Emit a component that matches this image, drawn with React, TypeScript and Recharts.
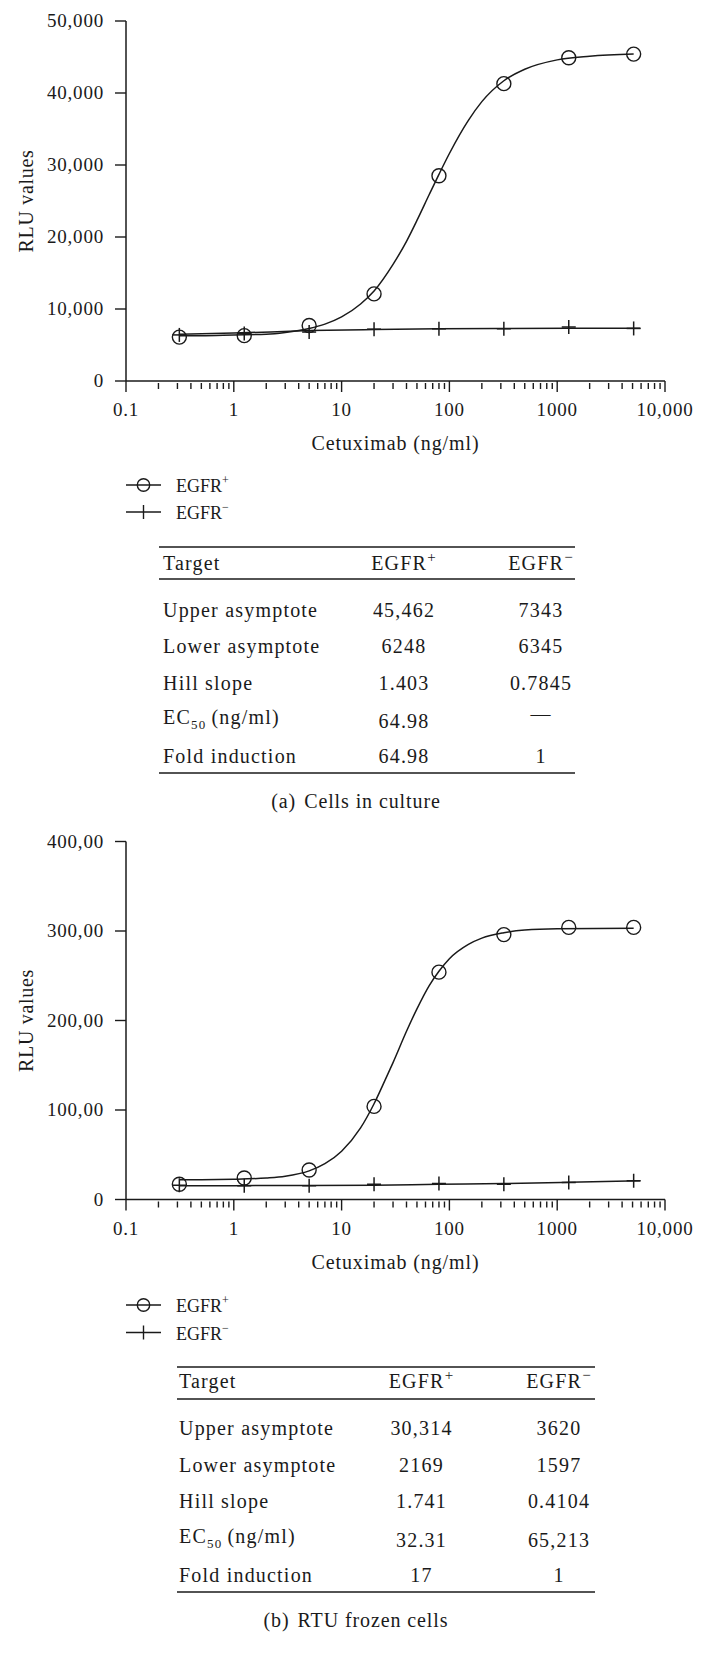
import React from 'react';
import { ComposedChart, Line, Scatter, XAxis, YAxis, Label } from 'recharts';

const FONT = '"Liberation Serif", "Times New Roman", serif';
const INK = '#1a1a1a';

// cetuximab concentrations (ng/ml), 4-fold dilutions
const doses = [0.3125, 1.25, 5, 20, 80, 320, 1280, 5120];

// (a) cells in culture: measured points
const culturePos = [6100, 6300, 7700, 12100, 28500, 41300, 44900, 45400];
const cultureNeg = [6400, 6600, 6800, 7200, 7250, 7250, 7500, 7300];

// (a) fitted curves
const cultureFitPosDoses = [0.3125, 0.5, 1, 2, 3, 5, 7, 10, 15, 20, 30, 40, 50, 65, 80, 100, 150, 200, 320, 500, 1000, 2000, 5120];
const cultureFitPos = [6300, 6300, 6400, 6500, 6750, 7300, 7900, 8900, 10700, 12500, 16200, 19400, 22300, 25900, 28700, 31600, 36200, 38800, 41700, 43300, 44600, 45100, 45400];
const cultureFitNegDoses = [0.3125, 1, 5, 20, 80, 320, 1280, 5900];
const cultureFitNeg = [6500, 6650, 7000, 7150, 7250, 7300, 7330, 7340];

// (b) RTU frozen cells: measured points
const frozenPos = [1700, 2400, 3300, 10400, 25400, 29600, 30400, 30400];
const frozenNeg = [1600, 1550, 1550, 1700, 1800, 1700, 1900, 2100];

// (b) fitted curves
const frozenFitPosDoses = [0.3125, 0.5, 1, 2, 3, 5, 7, 10, 15, 20, 25, 30, 40, 50, 65, 80, 100, 150, 200, 320, 500, 1000, 5120];
const frozenFitPos = [2200, 2200, 2250, 2400, 2600, 3200, 4000, 5400, 8000, 10700, 13200, 15300, 18800, 21300, 23900, 25500, 26900, 28500, 29200, 29800, 30100, 30250, 30300];
const frozenFitNegDoses = [0.3125, 1, 5, 20, 80, 320, 1280, 5900];
const frozenFitNeg = [1550, 1550, 1560, 1600, 1700, 1780, 1920, 2100];

// x axis ticks
const doseTicks = [
  0.1, 0.2, 0.3, 0.4, 0.5, 0.6, 0.7, 0.8, 0.9,
  1, 2, 3, 4, 5, 6, 7, 8, 9,
  10, 20, 30, 40, 50, 60, 70, 80, 90,
  100, 200, 300, 400, 500, 600, 700, 800, 900,
  1000, 2000, 3000, 4000, 5000, 6000, 7000, 8000, 9000,
  10000,
];
const doseMajor = [0.1, 1, 10, 100, 1000, 10000];
const doseMajorLabels = ['0.1', '1', '10', '100', '1000', '10,000'];

// y axis ticks
const cultureYTicks = [0, 10000, 20000, 30000, 40000, 50000];
const cultureYLabels = ['0', '10,000', '20,000', '30,000', '40,000', '50,000'];
const frozenYTicks = [0, 10000, 20000, 30000, 40000];
const frozenYLabels = ['0', '100,00', '200,00', '300,00', '400,00'];

// parameter tables
const paramRows = ['Upper asymptote', 'Lower asymptote', 'Hill slope', 'EC50 (ng/ml)', 'Fold induction'];
const culturePosParams = ['45,462', '6248', '1.403', '64.98', '64.98'];
const cultureNegParams = ['7343', '6345', '0.7845', '—', '1'];
const frozenPosParams = ['30,314', '2169', '1.741', '32.31', '17'];
const frozenNegParams = ['3620', '1597', '0.4104', '65,213', '1'];

const toPoints = (xs: number[], ys: number[]) => xs.map((x, i) => ({ x, y: ys[i] }));

function DoseTick({ x, y, payload }: any) {
  const i = doseMajor.indexOf(payload.value);
  const major = i >= 0;
  return (
    <g>
      <line x1={x} x2={x} y1={major ? y : y + 2} y2={y + (major ? 11 : 8)} stroke={INK} strokeWidth={1.4} />
      {major && (
        <text x={x} y={y + 35} textAnchor="middle" fontFamily={FONT} fontSize={19} letterSpacing={0.8} fill={INK}>
          {doseMajorLabels[i]}
        </text>
      )}
    </g>
  );
}

function makeValueTick(ticks: number[], labels: string[]) {
  return ({ x, y, payload }: any) => {
    const i = ticks.indexOf(payload.value);
    return (
      <g>
        <line x1={x - 11} x2={x} y1={y} y2={y} stroke={INK} strokeWidth={1.4} />
        <text x={x - 22} y={y} dy="0.34em" textAnchor="end" fontFamily={FONT} fontSize={19} letterSpacing={0.8} fill={INK}>
          {labels[i]}
        </text>
      </g>
    );
  };
}

const CircleMark = (p: any) => <circle cx={p.cx} cy={p.cy} r={7} fill="none" stroke={INK} strokeWidth={1.4} />;
const PlusMark = (p: any) => (
  <g stroke={INK} strokeWidth={1.5}>
    <line x1={p.cx - 7} x2={p.cx + 7} y1={p.cy} y2={p.cy} />
    <line x1={p.cx} x2={p.cx} y1={p.cy - 7} y2={p.cy + 7} />
  </g>
);

function DoseChart(props: any) {
  const { top, plotTop, plotHeight, yMax, yTicks, yLabels, pos, neg, fitPos, fitNeg } = props;
  const xAxisHeight = 89;
  const height = plotTop + plotHeight + xAxisHeight;
  return (
    <div style={{ position: 'absolute', left: 0, top }}>
      <ComposedChart width={706} height={height} margin={{ top: plotTop, right: 41, bottom: 0, left: 0 }}>
        <XAxis
          dataKey="x"
          type="number"
          scale="log"
          domain={[0.1, 10000]}
          allowDataOverflow
          ticks={doseTicks}
          interval={0}
          tick={<DoseTick />}
          tickLine={false}
          tickSize={0}
          tickMargin={0}
          height={xAxisHeight}
          axisLine={{ stroke: INK, strokeWidth: 1.5 }}
        >
          <Label
            value="Cetuximab (ng/ml)"
            position="insideBottom"
            offset={20}
            fill={INK}
            fontSize={20}
            fontFamily={FONT}
            style={{ letterSpacing: '0.9px' }}
          />
        </XAxis>
        <YAxis
          dataKey="y"
          type="number"
          domain={[0, yMax]}
          allowDataOverflow
          ticks={yTicks}
          interval={0}
          width={126}
          tick={makeValueTick(yTicks, yLabels)}
          tickLine={false}
          tickSize={0}
          tickMargin={0}
          axisLine={{ stroke: INK, strokeWidth: 1.5 }}
        >
          <Label
            value="RLU values"
            angle={-90}
            position="insideLeft"
            offset={26}
            fill={INK}
            fontSize={20}
            fontFamily={FONT}
            style={{ textAnchor: 'middle', letterSpacing: '0.7px' }}
          />
        </YAxis>
        <Line data={fitNeg} dataKey="y" type="monotone" stroke={INK} strokeWidth={1.5} dot={false} isAnimationActive={false} />
        <Line data={fitPos} dataKey="y" type="monotone" stroke={INK} strokeWidth={1.5} dot={false} isAnimationActive={false} />
        <Scatter data={neg} dataKey="y" shape={PlusMark} isAnimationActive={false} />
        <Scatter data={pos} dataKey="y" shape={CircleMark} isAnimationActive={false} />
      </ComposedChart>
    </div>
  );
}

function SeriesKey({ y1, y2 }: { y1: number; y2: number }) {
  return (
    <g fontFamily={FONT} fontSize={18} fill={INK}>
      <line x1={126} x2={161} y1={y1} y2={y1} stroke={INK} strokeWidth={1.4} />
      <circle cx={143.5} cy={y1} r={6.2} fill="none" stroke={INK} strokeWidth={1.4} />
      <text x={176} y={y1 + 7}>
        EGFR<tspan dy={-8} fontSize={12}>+</tspan>
      </text>
      <line x1={126} x2={161} y1={y2} y2={y2} stroke={INK} strokeWidth={1.4} />
      <line x1={143.5} x2={143.5} y1={y2 - 7} y2={y2 + 7} stroke={INK} strokeWidth={1.4} />
      <text x={176} y={y2 + 7}>
        EGFR<tspan dy={-8} fontSize={12}>−</tspan>
      </text>
    </g>
  );
}

function ParamTable(props: any) {
  const { left, right, rules, headerY, rowYs, labelX, colX, posVals, negVals } = props;
  return (
    <g fontFamily={FONT} fontSize={20} fill={INK} letterSpacing={1.2}>
      {rules.map((ry: number, i: number) => (
        <line key={i} x1={left} x2={right} y1={ry} y2={ry} stroke={INK} strokeWidth={1.6} />
      ))}
      <text x={labelX} y={headerY}>Target</text>
      <text x={colX[0]} y={headerY} textAnchor="middle">
        EGFR<tspan dy={-8} fontSize={15}>+</tspan>
      </text>
      <text x={colX[1]} y={headerY} textAnchor="middle">
        EGFR<tspan dy={-8} fontSize={15}>−</tspan>
      </text>
      {paramRows.map((label, i) => {
        const ry = rowYs[i];
        const vy = i === 3 ? ry + 4 : ry;
        return (
          <g key={label}>
            {i === 3 ? (
              <text x={labelX} y={ry}>
                EC<tspan fontSize={13} dy={5}>50</tspan>
                <tspan dy={-5} dx={5}>(ng/ml)</tspan>
              </text>
            ) : (
              <text x={labelX} y={ry}>{label}</text>
            )}
            <text x={colX[0]} y={vy} textAnchor="middle">{posVals[i]}</text>
            <text x={colX[1]} y={negVals[i] === '—' ? ry - 3 : vy} textAnchor="middle">{negVals[i]}</text>
          </g>
        );
      })}
    </g>
  );
}

export default function App() {
  return (
    <div style={{ position: 'absolute', left: 0, top: 0, width: 706, height: 1665, background: '#fff' }}>
      <DoseChart
        top={0}
        plotTop={21}
        plotHeight={360}
        yMax={50000}
        yTicks={cultureYTicks}
        yLabels={cultureYLabels}
        pos={toPoints(doses, culturePos)}
        neg={toPoints(doses, cultureNeg)}
        fitPos={toPoints(cultureFitPosDoses, cultureFitPos)}
        fitNeg={toPoints(cultureFitNegDoses, cultureFitNeg)}
      />
      <DoseChart
        top={820}
        plotTop={21.5}
        plotHeight={358}
        yMax={40000}
        yTicks={frozenYTicks}
        yLabels={frozenYLabels}
        pos={toPoints(doses, frozenPos)}
        neg={toPoints(doses, frozenNeg)}
        fitPos={toPoints(frozenFitPosDoses, frozenFitPos)}
        fitNeg={toPoints(frozenFitNegDoses, frozenFitNeg)}
      />
      <svg width={706} height={1665} style={{ position: 'absolute', left: 0, top: 0, pointerEvents: 'none' }}>
        <SeriesKey y1={485} y2={512} />
        <ParamTable
          left={159}
          right={575}
          rules={[547, 579, 773]}
          headerY={570}
          rowYs={[617, 653, 690, 724, 763]}
          labelX={163}
          colX={[404, 541]}
          posVals={culturePosParams}
          negVals={cultureNegParams}
        />
        <text x={356} y={808} textAnchor="middle" fontFamily={FONT} fontSize={20} letterSpacing={0.9} fill={INK}>
          (a)<tspan dx={8}>Cells in culture</tspan>
        </text>

        <SeriesKey y1={1305} y2={1332.5} />
        <ParamTable
          left={177}
          right={595}
          rules={[1367, 1399, 1592]}
          headerY={1388}
          rowYs={[1435, 1472, 1508, 1543, 1582]}
          labelX={179}
          colX={[421.5, 559]}
          posVals={frozenPosParams}
          negVals={frozenNegParams}
        />
        <text x={356} y={1627} textAnchor="middle" fontFamily={FONT} fontSize={20} letterSpacing={0.9} fill={INK}>
          (b)<tspan dx={8}>RTU frozen cells</tspan>
        </text>
      </svg>
    </div>
  );
}
